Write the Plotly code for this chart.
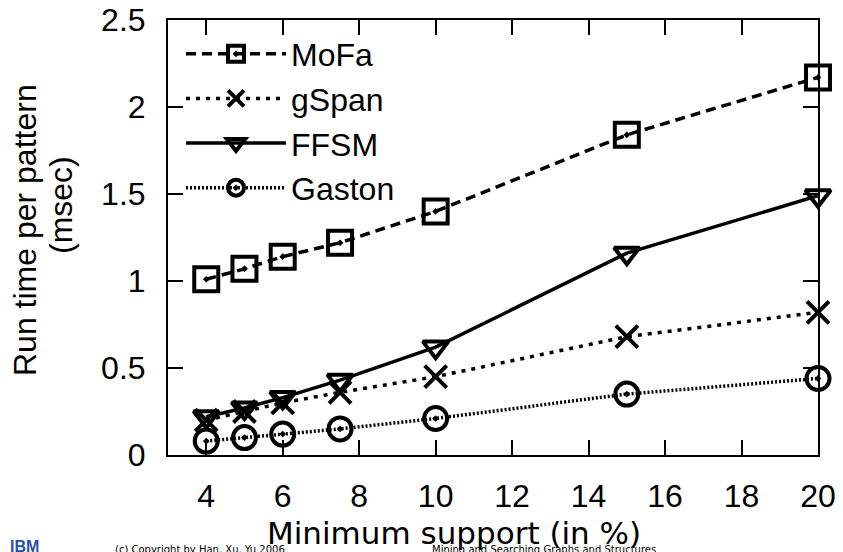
import plotly.graph_objects as go

support = [4, 5, 6, 7.5, 10, 15, 20]
mofa = [1.01, 1.07, 1.14, 1.22, 1.40, 1.84, 2.17]
gspan = [0.20, 0.25, 0.30, 0.36, 0.45, 0.68, 0.82]
ffsm = [0.22, 0.27, 0.33, 0.43, 0.62, 1.16, 1.49]
gaston = [0.08, 0.10, 0.12, 0.15, 0.21, 0.35, 0.44]

x_ticks = [4, 6, 8, 10, 12, 14, 16, 18, 20]
y_ticks = [0, 0.5, 1, 1.5, 2, 2.5]
y_ticklabels = ["0", "0.5", "1", "1.5", "2", "2.5"]

series = [
    ("MoFa", mofa, "10px,6px", "square-open-dot", 24),
    ("gSpan", gspan, "4px,6px", "x-thin-open", 22),
    ("FFSM", ffsm, "solid", "triangle-down-open", 22),
    ("Gaston", gaston, "2px,2px", "circle-open-dot", 23),
]

fig = go.Figure()
for name, vals, dash, sym, size in series:
    fig.add_trace(go.Scatter(
        x=support, y=vals, name=name, mode="lines+markers",
        line=dict(color="black", width=3.5, dash=dash),
        marker=dict(symbol=sym, size=size, color="black",
                    line=dict(color="black", width=4)),
        cliponaxis=False,
    ))

axis_font = dict(family="Liberation Sans, Arial, sans-serif", size=32, color="black")

fig.update_layout(
    width=843, height=552, autosize=False,
    margin=dict(l=168, r=25, t=20, b=97, autoexpand=False),
    paper_bgcolor="white", plot_bgcolor="white",
    showlegend=True,
    legend=dict(
        x=0.02, y=0.985, xanchor="left", yanchor="top",
        bgcolor="rgba(0,0,0,0)", font=axis_font,
        itemwidth=100, tracegroupgap=0,
    ),
    xaxis=dict(
        range=[3, 20], tickvals=x_ticks, ticks="inside", ticklen=15,
        tickwidth=2, tickcolor="black", showline=True, linewidth=2,
        linecolor="black", mirror="ticks", showgrid=False, zeroline=False,
        tickfont=axis_font, ticklabelstandoff=12, automargin=False,
    ),
    yaxis=dict(
        range=[0, 2.5], tickvals=y_ticks, ticktext=y_ticklabels,
        ticks="inside", ticklen=15, tickwidth=2, tickcolor="black",
        showline=True, linewidth=2, linecolor="black", mirror="ticks",
        showgrid=False, zeroline=False, tickfont=axis_font,
        ticklabelstandoff=14, automargin=False,
    ),
)

fig.add_annotation(
    text="Run time per pattern", textangle=-90, xref="paper", yref="paper",
    x=-168 / 650 + 25 / 650, y=1 - (230 - 20) / 435, xanchor="center",
    yanchor="middle", showarrow=False, font=axis_font,
)
fig.add_annotation(
    text="(msec)", textangle=-90, xref="paper", yref="paper",
    x=-168 / 650 + 61 / 650, y=1 - (205 - 20) / 435, xanchor="center",
    yanchor="middle", showarrow=False, font=axis_font,
)
fig.add_annotation(
    text="Minimum support (in %)", xref="paper", yref="paper",
    x=(454 - 168) / 650, y=1 - (533 - 20) / 435, xanchor="center",
    yanchor="middle", showarrow=False,
    font=dict(family="DejaVu Sans, Verdana, sans-serif", size=31, color="black"),
)
fig.add_annotation(
    text="(c) Copyright by Han, Xu, Yu 2006", xref="paper", yref="paper",
    x=(113 - 168) / 650, y=1 - (542 - 20) / 435, xanchor="left",
    yanchor="top", showarrow=False,
    font=dict(family="DejaVu Sans, sans-serif", size=10, color="black"),
)
fig.add_annotation(
    text="Mining and Searching Graphs and Structures", xref="paper", yref="paper",
    x=(430 - 168) / 650, y=1 - (542 - 20) / 435, xanchor="left",
    yanchor="top", showarrow=False,
    font=dict(family="DejaVu Sans, sans-serif", size=10, color="black"),
)
fig.add_annotation(
    text="<b>IBM</b>", xref="paper", yref="paper",
    x=(8 - 168) / 650, y=1 - (536 - 20) / 435, xanchor="left",
    yanchor="top", showarrow=False,
    font=dict(family="Liberation Sans, Arial, sans-serif", size=16, color="#2b4fb0"),
)

fig.write_html("out.html")
